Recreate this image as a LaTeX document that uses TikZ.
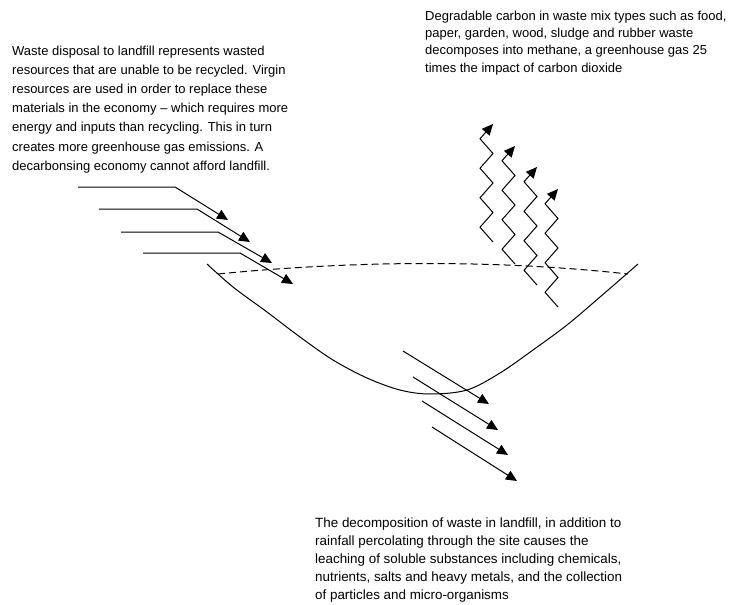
\documentclass[tikz,border=0pt]{standalone}
\usepackage{fontspec}
\setmainfont{Liberation Sans}
\usetikzlibrary{arrows.meta}
\begin{document}
\begin{tikzpicture}[x=1pt,y=-1pt,
  ln/.style={line width=1pt, black, line join=miter},
  tri/.style={-{Triangle[length=11pt,width=10pt]}},
  txt/.style={anchor=north west, inner sep=0pt, align=left},
  dsh/.style={ln, dash pattern=on 7pt off 4pt}
]
\useasboundingbox (0,0) rectangle (739,605);

% texts
\node[txt, font=\fontsize{13}{19.2}\selectfont] (lefttext) at (12,45.5) {Waste disposal to landfill represents wasted\\
resources that are unable to be recycled. Virgin\\
resources are used in order to replace these\\
materials in the economy – which requires more\\
energy and inputs than recycling. This in turn\\
creates more greenhouse gas emissions. A\\
decarbonsing economy cannot afford landfill.};

\node[txt, font=\fontsize{13}{17.3}\selectfont] (righttext) at (425,10.5) {Degradable carbon in waste mix types such as food,\\
paper, garden, wood, sludge and rubber waste\\
decomposes into methane, a greenhouse gas 25\\
times the impact of carbon dioxide};

\node[txt, font=\fontsize{13.4}{18}\selectfont] (bottomtext) at (315,517.5) {The decomposition of waste in landfill, in addition to\\
rainfall percolating through the site causes the\\
leaching of soluble substances including chemicals,\\
nutrients, salts and heavy metals, and the collection\\
of particles and micro-organisms};

% basin
\draw[ln] plot[smooth, tension=0.55] coordinates {(207,264) (233,287) (267,312) (300,337) (333,360) (367,378) (400,390) (430,394) (467,390) (500,373) (533,350) (567,325) (600,297) (638,264)};

% waste surface
\draw[dsh] (218,274) .. controls (360,260) and (500,260) .. (628,274);

% rainfall arrows
\draw[ln, tri] (78,187) -- (175,187) -- (228,220);
\draw[ln, tri] (99,209) -- (197,209) -- (250,242);
\draw[ln, tri] (121,232) -- (218,232) -- (272,263);
\draw[ln, tri] (143,253) -- (240,253) -- (293,284);

% methane zigzags
\foreach \dx/\dy in {0/0, 22/22, 44/43, 65/65} {
  \draw[ln, tri] (493+\dx,242+\dy)
    -- ++(-13,-14.75) -- ++(13,-14.75) -- ++(-13,-14.75) -- ++(13,-14.75)
    -- ++(-13,-14.75) -- ++(13,-14.75) -- ++(-13,-14.75) -- ++(13,-14.75);
}

% leachate arrows
\draw[ln, tri] (403,351) -- (489,404);
\draw[ln, tri] (413,377) -- (498,430);
\draw[ln, tri] (422,401) -- (508,455);
\draw[ln, tri] (432,427) -- (517,481);
\end{tikzpicture}
\end{document}
